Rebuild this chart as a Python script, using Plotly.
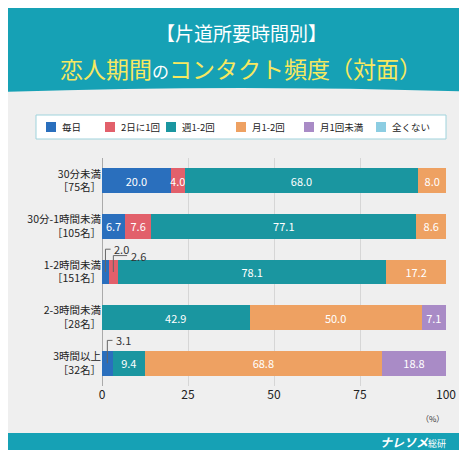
import plotly.graph_objects as go

categories = ["30分未満<br>［75名］", "30分-1時間未満<br>［105名］", "1-2時間未満<br>［151名］", "2-3時間未満<br>［28名］", "3時間以上<br>［32名］"]
series_names = ["毎日", "2日に1回", "週1-2回", "月1-2回", "月1回未満", "全くない"]
values = {
    "毎日":     [20.0, 6.7, 2.0, 0.0, 3.1],
    "2日に1回": [4.0, 7.6, 2.6, 0.0, 0.0],
    "週1-2回":  [68.0, 77.1, 78.1, 42.9, 9.4],
    "月1-2回":  [8.0, 8.6, 17.2, 50.0, 68.8],
    "月1回未満": [0.0, 0.0, 0.0, 7.1, 18.8],
    "全くない": [0.0, 0.0, 0.0, 0.0, 0.0],
}
colors = ["#2a6fbd", "#e2606b", "#1a96a0", "#eea162", "#a98bc6", "#8ccde2"]
x_ticks = [0, 25, 50, 75, 100]
legend_x = [38, 97, 158, 228, 296, 368]

W, H, L, R, T, B = 467, 450, 94, 29, 150, 72
PW, PH = W - L - R, H - T - B
def px(x): return (x - L) / PW
def py(y): return (H - y - B) / PH

FONT = "Noto Sans CJK JP"
fig = go.Figure()
for name, col in zip(series_names, colors):
    vals = values[name]
    txt = [f"{v:.1f}" if v >= 3.5 else "" for v in vals]
    fig.add_trace(go.Bar(
        y=categories, x=vals, name=name, orientation="h", marker_color=col,
        marker_line_width=0, text=txt, textposition="inside", insidetextanchor="middle",
        textfont=dict(color="white", size=11, family=FONT), hoverinfo="skip",
        constraintext="none", showlegend=False))

anns = []
shapes = []
cum = {c: 0.0 for c in categories}
for name in series_names:
    for i, c in enumerate(categories):
        v = values[name][i]
        if 0 < v < 3.5:
            mid = cum[c] + v / 2
            off = 0.5 if name == "毎日" else 0.36
            tx = mid + (2.0 if name == "毎日" else 4.5)
            shapes.append(dict(type="path", xref="x", yref="y",
                               path=f"M {mid},{i} L {mid},{i-off} L {tx-0.5},{i-off}",
                               line=dict(color="#666", width=1)))
            anns.append(dict(x=tx, y=i - off, xref="x", yref="y", text=f"{v:.1f}", showarrow=False,
                             xanchor="left", font=dict(size=11, color="#333", family=FONT)))
        cum[c] += v

bg = [
    dict(type="path", xref="paper", yref="paper", layer="below",
         path=f"M {px(-5)},{py(-5)} L {px(475)},{py(-5)} L {px(475)},{py(84)} "
              f"Q {px(233)},{py(76)} {px(-5)},{py(84)} Z",
         fillcolor="#16a1b5", line_width=0),
    dict(type="rect", xref="paper", yref="paper", layer="below",
         x0=px(-5), x1=px(475), y0=py(455), y1=py(425), fillcolor="#16a1b5", line_width=0),
    dict(type="rect", xref="paper", yref="paper", layer="below",
         x0=px(28), x1=px(438), y0=py(131), y1=py(107),
         fillcolor="white", line=dict(color="#9fd3dc", width=1)),
]
for name, col, lx in zip(series_names, colors, legend_x):
    bg.append(dict(type="rect", xref="paper", yref="paper",
                   x0=px(lx), x1=px(lx + 10), y0=py(124), y1=py(114), fillcolor=col, line_width=0))
    anns.append(dict(x=px(lx + 14), y=py(119), xref="paper", yref="paper", xanchor="left",
                     yanchor="middle", text=name, showarrow=False,
                     font=dict(size=9.5, color="#222", family=FONT)))
shapes = bg + shapes

anns += [
    dict(x=px(233), y=py(25), xref="paper", yref="paper", yanchor="middle", text="【片道所要時間別】",
         showarrow=False, font=dict(size=19, color="white", family=FONT)),
    dict(x=px(233), y=py(60), xref="paper", yref="paper", yanchor="middle",
         text="恋人期間<span style='font-size:17px;color:white'>の</span>コンタクト頻度（対面）",
         showarrow=False, font=dict(size=23, color="#f7e860", family=FONT)),
    dict(x=1.0, y=py(403), xref="paper", yref="paper", yanchor="top", text="（%）",
         showarrow=False, font=dict(size=8, color="#333", family=FONT)),
    dict(x=px(440), y=py(433), xref="paper", yref="paper", yanchor="middle", xanchor="right",
         text="<b><i>ナレソメ</i></b><span style='font-size:9px'>総研</span>",
         showarrow=False, font=dict(size=12, color="white", family=FONT)),
]

fig.update_layout(
    width=W, height=H, barmode="stack", bargap=0.46,
    paper_bgcolor="#efefef", plot_bgcolor="#efefef",
    margin=dict(l=L, r=R, t=T, b=B),
    font=dict(family=FONT, color="#222"),
    shapes=shapes, annotations=anns, showlegend=False,
)
fig.update_xaxes(range=[0, 100], tickvals=x_ticks, showgrid=True, gridcolor="#d6d6d6",
                 zeroline=True, zerolinecolor="#aaa", zerolinewidth=1, ticks="",
                 tickfont=dict(size=12, color="#222"), fixedrange=True)
fig.update_yaxes(autorange="reversed", ticks="", tickfont=dict(size=10.5, color="#222"),
                 showgrid=False, fixedrange=True)
fig.write_html("out.html")
